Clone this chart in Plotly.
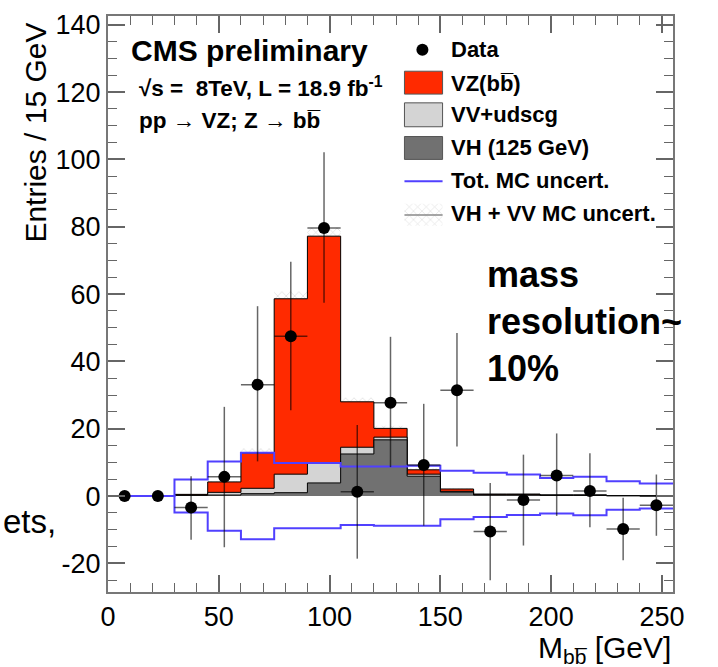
import plotly.graph_objects as go

# ---------------- data ----------------
edges = [0, 15, 30, 45, 60, 75, 90, 105, 120, 135, 150, 165, 180, 195, 210, 225, 240, 255]

data_y      = [0, 0, -3.4, 5.7, 33.1, 47.5, 79.6, 1.3, 27.7, 9.2, 31.4, -10.5, -1.2, 6.1, 1.5, -9.8, -2.7]
data_err_up = [0, 0, 9.3, 20.8, 23.3, 22.1, 22.5, 19.8, 19.6, 18.2, 17.0, 14.4, 13.5, 12.5, 11.2, 9.3, 9.1]
data_err_dn = [0, 0, 9.6, 20.9, 22.8, 22.0, 22.2, 19.9, 19.1, 18.0, 16.7, 14.5, 13.5, 12.0, 10.8, 9.3, 9.1]

vh = [0, 0, 0.2, 0.3, 0.7, 1.0, 3.9, 12.5, 16.7, 5.9, 1.2, 0.3, 0.3, 0.2, 0.2, 0.1, 0.05]
vv = [0, 0, 0.1, 0.8, 1.6, 5.5, 5.9, 2.0, 0.8, 0.6, 0.2, 0.1, 0.1, 0.05, 0.05, 0.02, 0]
vz = [0, 0, 0.2, 3.1, 10.5, 52.1, 67.4, 13.5, 2.6, 1.3, 0.7, 0.2, 0.2, 0.1, 0.1, 0.02, 0]

tot_unc_up = [0, 0, 4.9, 10.3, 12.9, 9.8, 9.8, 8.8, 8.8, 9.0, 7.5, 6.9, 6.4, 5.4, 5.7, 4.4, 3.7]
tot_unc_dn = [0, 0, -4.9, -10.3, -12.8, -9.6, -9.6, -8.6, -8.8, -8.8, -6.9, -6.2, -5.6, -5.2, -5.7, -4.1, -3.7]

vhvv_unc = [0, 0, 0, 0.3, 1.3, 2.2, 2.5, 1.2, 0.8, 0.5, 0.2, 0.1, 0.1, 0.1, 0.1, 0, 0]

x_ticks = [0, 50, 100, 150, 200, 250]
y_ticks = [-20, 0, 20, 40, 60, 80, 100, 120, 140]

# ---------------- derived ----------------
centers = [(a + b) / 2 for a, b in zip(edges[:-1], edges[1:])]
halfw = [(b - a) / 2 for a, b in zip(edges[:-1], edges[1:])]
xerr = [h if (u > 0 or d > 0) else 0 for h, u, d in zip(halfw, data_err_up, data_err_dn)]

s1 = list(vh)
s2 = [a + b for a, b in zip(vh, vv)]
s3 = [a + b for a, b in zip(s2, vz)]


def step(vals):
    return list(edges), list(vals) + [vals[-1]]


RED = "#ff2a00"
LGRAY = "#d4d4d4"
DGRAY = "#717171"
BLUE = "#5040ff"
FONT = "Arial, Liberation Sans, Helvetica, sans-serif"

fig = go.Figure()

# hatched VH+VV MC uncertainty band around stack top
bx, blo = step([t - u for t, u in zip(s3, vhvv_unc)])
_, bhi = step([t + u for t, u in zip(s3, vhvv_unc)])
fig.add_trace(go.Scatter(x=bx, y=blo, mode="lines", line=dict(width=0, shape="hv"),
                         showlegend=False, hoverinfo="skip"))
fig.add_trace(go.Scatter(x=bx, y=bhi, mode="lines", line=dict(width=0, shape="hv"),
                         fill="tonexty", fillcolor="rgba(0,0,0,0)",
                         fillpattern=dict(shape="x", fgcolor="#b0b0b0", size=6, solidity=0.2),
                         showlegend=False, hoverinfo="skip"))

# stacked histograms
for vals, col in [(s3, RED), (s2, LGRAY), (s1, DGRAY)]:
    x, y = step(vals)
    fig.add_trace(go.Scatter(x=x, y=y, mode="lines", line=dict(color="black", width=1, shape="hv"),
                             fill="tozeroy", fillcolor=col, showlegend=False, hoverinfo="skip"))

# total MC uncertainty
for vals in (tot_unc_up, tot_unc_dn):
    x, y = step(vals)
    fig.add_trace(go.Scatter(x=x, y=y, mode="lines", line=dict(color=BLUE, width=2, shape="hv"),
                             showlegend=False, hoverinfo="skip"))

# data
fig.add_trace(go.Scatter(
    x=centers, y=data_y, mode="markers",
    marker=dict(color="black", size=12),
    error_y=dict(type="data", array=data_err_up, arrayminus=data_err_dn, symmetric=False,
                 color="rgba(0,0,0,0.6)", thickness=1.5, width=0),
    error_x=dict(type="data", array=xerr, color="rgba(0,0,0,0.6)", thickness=1.5, width=0),
    showlegend=False, hoverinfo="skip"))

# ---------------- manual legend ----------------
shapes = []
leg_x0, leg_x1 = 133.8, 151.0
leg_boxes = [(RED, 126.2, 119.4), (LGRAY, 116.8, 109.7), (DGRAY, 106.8, 100.0)]
for col, ytop, ybot in leg_boxes:
    shapes.append(dict(type="rect", xref="x", yref="y", x0=leg_x0, x1=leg_x1, y0=ybot, y1=ytop,
                       fillcolor=col, line=dict(color="#555", width=1)))
shapes.append(dict(type="line", xref="x", yref="y", x0=leg_x0, x1=leg_x1, y0=93.5, y1=93.5,
                   line=dict(color=BLUE, width=2)))
# hatched legend glyph
fig.add_trace(go.Scatter(x=[leg_x0, leg_x1, leg_x1, leg_x0, leg_x0], y=[80.3, 80.3, 86.8, 86.8, 80.3],
                         mode="lines", line=dict(width=0), fill="toself", fillcolor="rgba(0,0,0,0)",
                         fillpattern=dict(shape="x", fgcolor="#c0c0c0", size=6, solidity=0.2),
                         showlegend=False, hoverinfo="skip"))
shapes.append(dict(type="line", xref="x", yref="y", x0=leg_x0, x1=leg_x1, y0=83.5, y1=83.5,
                   line=dict(color="#888", width=1.5)))
fig.add_trace(go.Scatter(x=[141.9], y=[132.6], mode="markers", marker=dict(color="black", size=12),
                         showlegend=False, hoverinfo="skip"))

leg_texts = [("Data", 132.6), ("VZ(bb\u0305)", 122.6), ("VV+udscg", 113.2),
             ("VH (125 GeV)", 103.5), ("Tot. MC uncert.", 93.8), ("VH + VV MC uncert.", 83.8)]
annotations = []
for t, yv in leg_texts:
    annotations.append(dict(x=154.1, y=yv, xref="x", yref="y", text="<b>" + t + "</b>",
                            showarrow=False, xanchor="left", yanchor="middle",
                            font=dict(size=22, color="black", family=FONT)))

annotations += [
    dict(x=9.7, y=132.4, xref="x", yref="y", text="<b>CMS preliminary</b>", showarrow=False,
         xanchor="left", yanchor="middle", font=dict(size=30, color="black", family=FONT)),
    dict(x=12.9, y=121.5, xref="x", yref="y", text="<b>\u221As =  8TeV, L = 18.9 fb<sup>-1</sup></b>",
         showarrow=False, xanchor="left", yanchor="middle", font=dict(size=22.5, color="black", family=FONT)),
    dict(x=12.9, y=111.5, xref="x", yref="y", text="<b>pp \u2192 VZ; Z \u2192 bb\u0305</b>",
         showarrow=False, xanchor="left", yanchor="middle", font=dict(size=22.5, color="black", family=FONT)),
    dict(x=170, y=52.0, xref="x", yref="y", text="<b>mass<br>resolution~<br>10%</b>", showarrow=False,
         xanchor="left", yanchor="middle", align="left",
         font=dict(size=36, color="black", family=FONT)),
    dict(x=-0.190, y=0.122, xref="paper", yref="paper", text="ets,", showarrow=False,
         xanchor="left", yanchor="middle", font=dict(size=33, color="black", family=FONT)),
    dict(x=-0.128, y=0.797, xref="paper", yref="paper", text="Entries / 15 GeV", textangle=-90,
         showarrow=False, xanchor="center", yanchor="middle", font=dict(size=30, color="black", family=FONT)),
    dict(x=1.0, y=-0.099, xref="paper", yref="paper", text="M<sub>bb\u0305</sub> [GeV]",
         showarrow=False, xanchor="right", yanchor="middle", font=dict(size=30, color="black", family=FONT)),
]

axis_common = dict(ticks="inside", tickwidth=1.5, tickcolor="#666", ticklen=17,
                   showline=True, linewidth=2, linecolor="#777", mirror="allticks",
                   showgrid=False, zeroline=False,
                   tickfont=dict(size=27, color="black", family=FONT))

fig.update_layout(
    width=718, height=667,
    margin=dict(l=108, r=45, t=10, b=75),
    paper_bgcolor="white", plot_bgcolor="white",
    font=dict(family=FONT),
    xaxis=dict(range=[edges[0], edges[-1]], tickvals=x_ticks, ticktext=[str(v) for v in x_ticks],
               minor=dict(dtick=10, ticklen=9, tickcolor="#666", tickwidth=1.2, ticks="inside"),
               **axis_common),
    yaxis=dict(range=[-28.5, 142.6], tickvals=y_ticks, ticktext=[str(v) for v in y_ticks],
               minor=dict(dtick=5, ticklen=9, tickcolor="#666", tickwidth=1.2, ticks="inside"),
               **axis_common),
    shapes=shapes,
    annotations=annotations,
    showlegend=False,
)

fig.write_html("out.html")
